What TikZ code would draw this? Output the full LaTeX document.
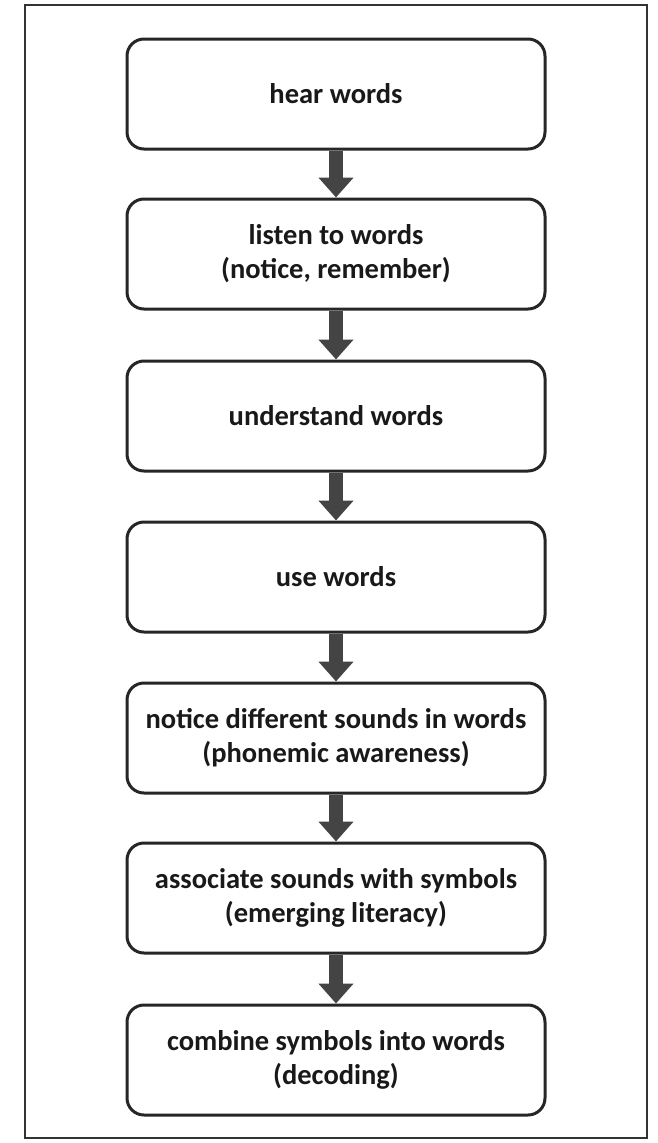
\documentclass[tikz,border=0pt]{standalone}
\usepackage{fontspec}
\setmainfont{Carlito}
\usetikzlibrary{arrows.meta}
\definecolor{boxline}{HTML}{262626}
\definecolor{arrowgray}{HTML}{444444}
\tikzset{
	stagebox/.style={rectangle, rounded corners=17pt, draw=boxline, line width=3pt, fill=white,
		minimum width=418pt, minimum height=110pt, align=center, text=black!90,
		font=\bfseries\fontsize{28.5}{34}\selectfont},
	flowarrow/.style={draw=arrowgray, line width=14pt, -{Triangle[width=34pt,length=20pt]}}
}
\begin{document}
\begin{tikzpicture}[x=1pt,y=-1pt]
	\useasboundingbox (0,0) rectangle (657,1143);
	\draw[line width=1.5pt, draw=black!80] (25,5) rectangle (647,1138);
	\node (S1) at (336,  94)	[stagebox]	{hear words};
	\node (S2) at (336, 254)	[stagebox]	{listen to words\\(notice, remember)};
	\node (S3) at (336, 416)	[stagebox]	{understand words};
	\node (S4) at (336, 577)	[stagebox]	{use words};
	\node (S5) at (336, 738)	[stagebox]	{notice different sounds in words\\(phonemic awareness)};
	\node (S6) at (336, 898)	[stagebox]	{associate sounds with symbols\\(emerging literacy)};
	\node (S7) at (336,1060)	[stagebox]	{combine symbols into words\\(decoding)};
	\draw[flowarrow] (S1) -- (S2);
	\draw[flowarrow] (S2) -- (S3);
	\draw[flowarrow] (S3) -- (S4);
	\draw[flowarrow] (S4) -- (S5);
	\draw[flowarrow] (S5) -- (S6);
	\draw[flowarrow] (S6) -- (S7);
\end{tikzpicture}
\end{document}
